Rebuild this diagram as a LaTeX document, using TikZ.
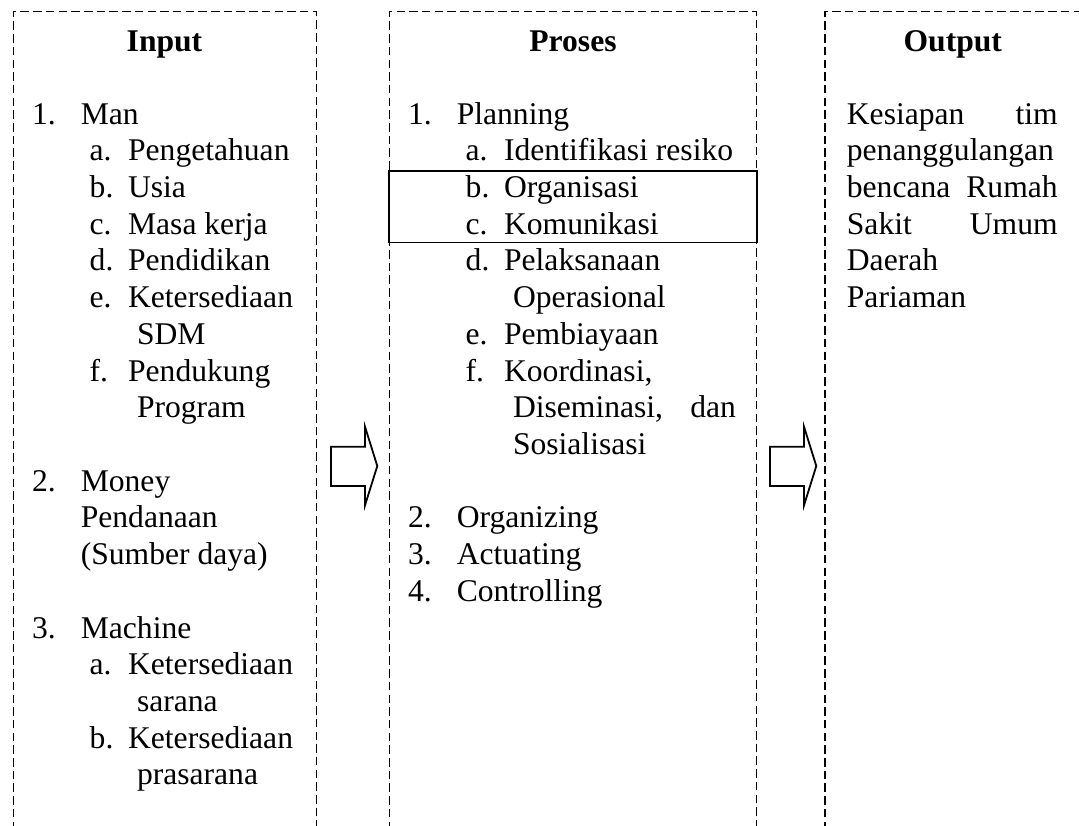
\documentclass[tikz,border=0pt]{standalone}
\usepackage{fontspec}
\setmainfont{Liberation Serif}
\begin{document}
\begin{tikzpicture}[x=1pt,y=-1pt,
  t/.style={anchor=base west,inner sep=0pt,font=\fontsize{31.6}{36.7}\selectfont},
  hd/.style={anchor=base,inner sep=0pt,font=\fontsize{31.6}{36.7}\selectfont\bfseries},
  frame/.style={draw=black,line width=1.2pt,dash pattern=on 8.5pt off 4.2pt},
  blockarrow/.style={draw=black,line width=1.8pt,line join=miter,fill=white},
  hl/.style={draw=black,line width=1.8pt}]
\useasboundingbox (0,0) rectangle (1079,825);
\clip (0,0) rectangle (1079,825);
\fill[white] (0,0) rectangle (1079,825);

% dashed column frames (open at the bottom)
\draw[frame] (13.3,830) -- (13.3,11.7) -- (316.7,11.7) -- (316.7,830);
\draw[frame] (389.3,830) -- (389.3,11.7) -- (756.7,11.7) -- (756.7,830);
\draw[frame] (825,830) -- (825,11.7) -- (1081,11.7) -- (1081,830);

% highlight rectangle
\draw[hl] (389.3,171) rectangle (756.7,242.5);

% block arrows
\draw[blockarrow] (331,446.7) -- (365,446.7) -- (365,426.7) -- (377.3,466) -- (365,505.3) -- (365,486) -- (331,486) -- cycle;
\draw[blockarrow] (770,446.7) -- (804,446.7) -- (804,426.7) -- (816.3,466) -- (804,505.3) -- (804,486) -- (770,486) -- cycle;

% ---------- Input ----------
\node[hd] (hin) at (164.5,51.5) {Input};
\node[t] (in1) at (31.8,124) {1.};
\node[t] (man) at (80.6,124) {Man};
\node[t] (ina) at (89.5,160.72) {a.};
\node[t] (peng) at (127.9,160.72) {Pengetahuan};
\node[t] (inb) at (89.5,197.44) {b.};
\node[t] (usia) at (127.9,197.44) {Usia};
\node[t] (inc) at (89.5,234.16) {c.};
\node[t] (masa) at (127.9,234.16) {Masa kerja};
\node[t] (ind) at (89.5,270.88) {d.};
\node[t] (pend) at (127.9,270.88) {Pendidikan};
\node[t] (ine) at (89.5,307.6) {e.};
\node[t] (ket) at (127.9,307.6) {Ketersediaan};
\node[t] (sdm) at (136.8,344.32) {SDM};
\node[t] (inf) at (89.5,381.04) {f.};
\node[t] (pduk) at (127.9,381.04) {Pendukung};
\node[t] (prog) at (136.8,417.76) {Program};
\node[t] (in2) at (31.8,491.2) {2.};
\node[t] (money) at (80.6,491.2) {Money};
\node[t] (pdana) at (80.6,527.92) {Pendanaan};
\node[t] (sumber) at (80.6,564.64) {(Sumber daya)};
\node[t] (in3) at (31.8,638.08) {3.};
\node[t] (mach) at (80.6,638.08) {Machine};
\node[t] (ma) at (89.5,674.8) {a.};
\node[t] (keta) at (127.9,674.8) {Ketersediaan};
\node[t] (sarana) at (136.8,711.52) {sarana};
\node[t] (mb) at (89.5,748.24) {b.};
\node[t] (ketb) at (127.9,748.24) {Ketersediaan};
\node[t] (prasarana) at (136.8,784.96) {prasarana};

% ---------- Proses ----------
\node[hd] (hpr) at (573,51.5) {Proses};
\node[t] (pr1) at (407.8,124) {1.};
\node[t] (plan) at (456.6,124) {Planning};
\node[t] (pa) at (465.5,160.72) {a.};
\node[t] (ident) at (503.9,160.72) {Identifikasi resiko};
\node[t] (pb) at (465.5,197.44) {b.};
\node[t] (org) at (503.9,197.44) {Organisasi};
\node[t] (pc) at (465.5,234.16) {c.};
\node[t] (kom) at (503.9,234.16) {Komunikasi};
\node[t] (pd) at (465.5,270.88) {d.};
\node[t] (pelak) at (503.9,270.88) {Pelaksanaan};
\node[t] (oper) at (512.8,307.6) {Operasional};
\node[t] (pe) at (465.5,344.32) {e.};
\node[t] (biaya) at (503.9,344.32) {Pembiayaan};
\node[t] (pf) at (465.5,381.04) {f.};
\node[t] (koord) at (503.9,381.04) {Koordinasi,};
\node[t] (disem) at (512.8,417.76) {\hbox to 223pt{Diseminasi,\hfill dan}};
\node[t] (sosial) at (512.8,454.48) {Sosialisasi};
\node[t] (pr2) at (407.8,527.92) {2.};
\node[t] (orgz) at (456.6,527.92) {Organizing};
\node[t] (pr3) at (407.8,564.64) {3.};
\node[t] (act) at (456.6,564.64) {Actuating};
\node[t] (pr4) at (407.8,601.36) {4.};
\node[t] (ctrl) at (456.6,601.36) {Controlling};

% ---------- Output ----------
\node[hd] (hout) at (952.8,51.5) {Output};
\node[t] (o1) at (846.7,124) {\hbox to 210.8pt{Kesiapan\hfill tim}};
\node[t] (o2) at (846.7,160.72) {penanggulangan};
\node[t] (o3) at (846.7,197.44) {\hbox to 210.8pt{bencana\hfill Rumah}};
\node[t] (o4) at (846.7,234.16) {\hbox to 210.8pt{Sakit\hfill Umum}};
\node[t] (o5) at (846.7,270.88) {Daerah};
\node[t] (o6) at (846.7,307.6) {Pariaman};
\end{tikzpicture}
\end{document}
